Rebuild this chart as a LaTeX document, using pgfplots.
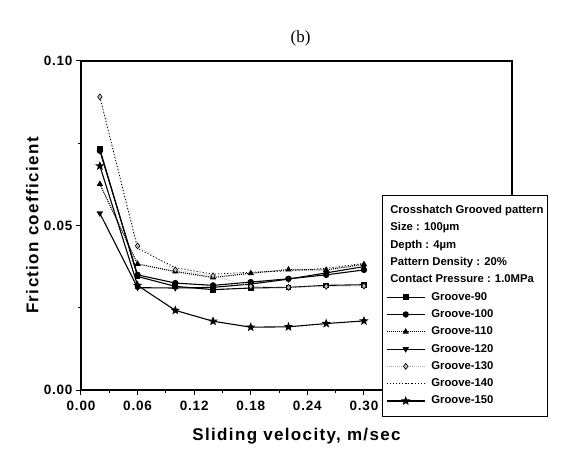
\documentclass[border=0pt]{standalone}
\usepackage{fontspec}
\setmainfont{Liberation Serif}
\setsansfont{Liberation Sans}
\newfontfamily\labfont[LetterSpace=8]{Liberation Sans}
\newfontfamily\tickfont[LetterSpace=6]{Liberation Sans}
\usepackage{pgfplots}
\pgfplotsset{compat=1.18}
\usetikzlibrary{calc}
\pgfdeclareplotmark{fstar}{%
  \pgfpathmoveto{\pgfpointpolar{90}{1.3\pgfplotmarksize}}%
  \pgfpathlineto{\pgfpointpolar{126}{0.55\pgfplotmarksize}}%
  \pgfpathlineto{\pgfpointpolar{162}{1.3\pgfplotmarksize}}%
  \pgfpathlineto{\pgfpointpolar{198}{0.55\pgfplotmarksize}}%
  \pgfpathlineto{\pgfpointpolar{234}{1.3\pgfplotmarksize}}%
  \pgfpathlineto{\pgfpointpolar{270}{0.55\pgfplotmarksize}}%
  \pgfpathlineto{\pgfpointpolar{306}{1.3\pgfplotmarksize}}%
  \pgfpathlineto{\pgfpointpolar{342}{0.55\pgfplotmarksize}}%
  \pgfpathlineto{\pgfpointpolar{18}{1.3\pgfplotmarksize}}%
  \pgfpathlineto{\pgfpointpolar{54}{0.55\pgfplotmarksize}}%
  \pgfpathclose\pgfusepathqfillstroke}
\begin{document}
\begin{tikzpicture}
\useasboundingbox (0,0) rectangle (567pt,453pt);
\begin{axis}[
  at={(81pt,63pt)}, anchor=south west,
  width=431pt, height=329pt, scale only axis,
  xmin=0, xmax=0.457, ymin=0, ymax=0.10,
  xtick={0,0.06,0.12,0.18,0.24,0.30},
  minor xtick={0.03,0.09,0.15,0.21,0.27,0.33,0.39,0.45},
  ytick={0,0.05,0.10},
  minor ytick={0.025,0.075},
  tick align=outside, tick pos=left,
  major tick length=5pt, minor tick length=3pt,
  axis line style={line width=1.4pt},
  every tick/.style={line width=1pt, black},
  /pgf/number format/.cd, fixed, fixed zerofill, precision=2, assume math mode=true,
  /pgfplots/.cd,
  scaled ticks=false,
  ticklabel style={font=\tickfont\bfseries\fontsize{13.5}{15}\selectfont},
  xticklabel style={yshift=-3pt},
  xlabel={Sliding velocity, m/sec},
  ylabel={Friction coefficient},
  label style={font=\labfont\bfseries\fontsize{17}{20}\selectfont},
  xlabel style={at={(rel axis cs:0.5,0)}, anchor=north, yshift=-35pt},
  ylabel style={at={($(rel axis cs:0,0.5)+(-39pt,0)$)}, anchor=south},
  title={(b)},
  title style={font=\rmfamily\fontsize{17}{20}\selectfont, yshift=5pt, xshift=4pt},
  legend style={at={(rel axis cs:0.698,0.593)}, anchor=north west,
    font=\sffamily\bfseries\fontsize{11.3}{13}\selectfont,
    draw=black, line width=0.8pt, fill=white,
    nodes={inner sep=1pt, text height=8.3pt, text depth=2.4pt},
    row sep=4.6pt, inner xsep=3pt, inner ysep=9pt,
    /tikz/every odd column/.append style={column sep=5pt}},
  legend cell align=left,
  legend image code/.code={%
    \draw[mark repeat=2,mark phase=2] plot coordinates {(0.05cm,0cm) (0.72cm,0cm) (1.39cm,0cm)};},
  every axis plot/.append style={line width=1.1pt, mark size=2.6pt},
  clip=false,
]
\addlegendimage{empty legend}\addlegendentry{\hspace*{-41pt}Crosshatch Grooved pattern}
\addlegendimage{empty legend}\addlegendentry{\hspace*{-41pt}Size : 100µm}
\addlegendimage{empty legend}\addlegendentry{\hspace*{-41pt}Depth : 4µm}
\addlegendimage{empty legend}\addlegendentry{\hspace*{-41pt}Pattern Density : 20\%}
\addlegendimage{empty legend}\addlegendentry{\hspace*{-41pt}Contact Pressure : 1.0MPa}
% Groove-90
\addplot[black, mark=square*, mark options={solid, mark size=2.3pt}] coordinates {
 (0.02,0.0732) (0.06,0.0345) (0.10,0.0315) (0.14,0.0305) (0.18,0.0310) (0.22,0.0312) (0.26,0.0318) (0.30,0.0320)};
\addlegendentry{Groove-90}
% Groove-100
\addplot[black, mark=*, mark options={solid}] coordinates {
 (0.02,0.0727) (0.06,0.0350) (0.10,0.0325) (0.14,0.0318) (0.18,0.0328) (0.22,0.0338) (0.26,0.0350) (0.30,0.0365)};
\addlegendentry{Groove-100}
% Groove-110
\addplot[black, densely dotted, mark=triangle*, mark options={solid}] coordinates {
 (0.02,0.0626) (0.06,0.0383) (0.10,0.0360) (0.14,0.0342) (0.18,0.0355) (0.22,0.0366) (0.26,0.0365) (0.30,0.0382)};
\addlegendentry{Groove-110}
% Groove-120
\addplot[black, mark=triangle*, mark options={solid, rotate=180}] coordinates {
 (0.02,0.0537) (0.06,0.0311) (0.10,0.0310) (0.14,0.0312) (0.18,0.0322) (0.22,0.0337) (0.26,0.0356) (0.30,0.0375)};
\addlegendentry{Groove-120}
% Groove-130
\addplot[gray!60, densely dotted, line width=0.6pt, mark=diamond*, mark options={solid, draw=black, fill=gray!50, mark size=3pt}] coordinates {
 (0.02,0.0891) (0.06,0.0438) (0.10,0.0365) (0.14,0.0347) (0.18,0.0315) (0.22,0.0312) (0.26,0.0315) (0.30,0.0316)};
\addlegendentry{Groove-130}
% Groove-140
\addplot[black, dotted, line width=0.8pt] coordinates {
 (0.02,0.0891) (0.06,0.0430) (0.10,0.0372) (0.14,0.0352) (0.18,0.0358) (0.22,0.0362) (0.26,0.0370) (0.30,0.0385)};
\addlegendentry{Groove-140}
% Groove-150
\addplot[black, mark=fstar, mark options={solid, mark size=2.6pt}] coordinates {
 (0.02,0.0681) (0.06,0.0318) (0.10,0.0242) (0.14,0.0209) (0.18,0.0191) (0.22,0.0192) (0.26,0.0202) (0.30,0.0210)};
\addlegendentry{Groove-150}
\end{axis}
\end{tikzpicture}
\end{document}
